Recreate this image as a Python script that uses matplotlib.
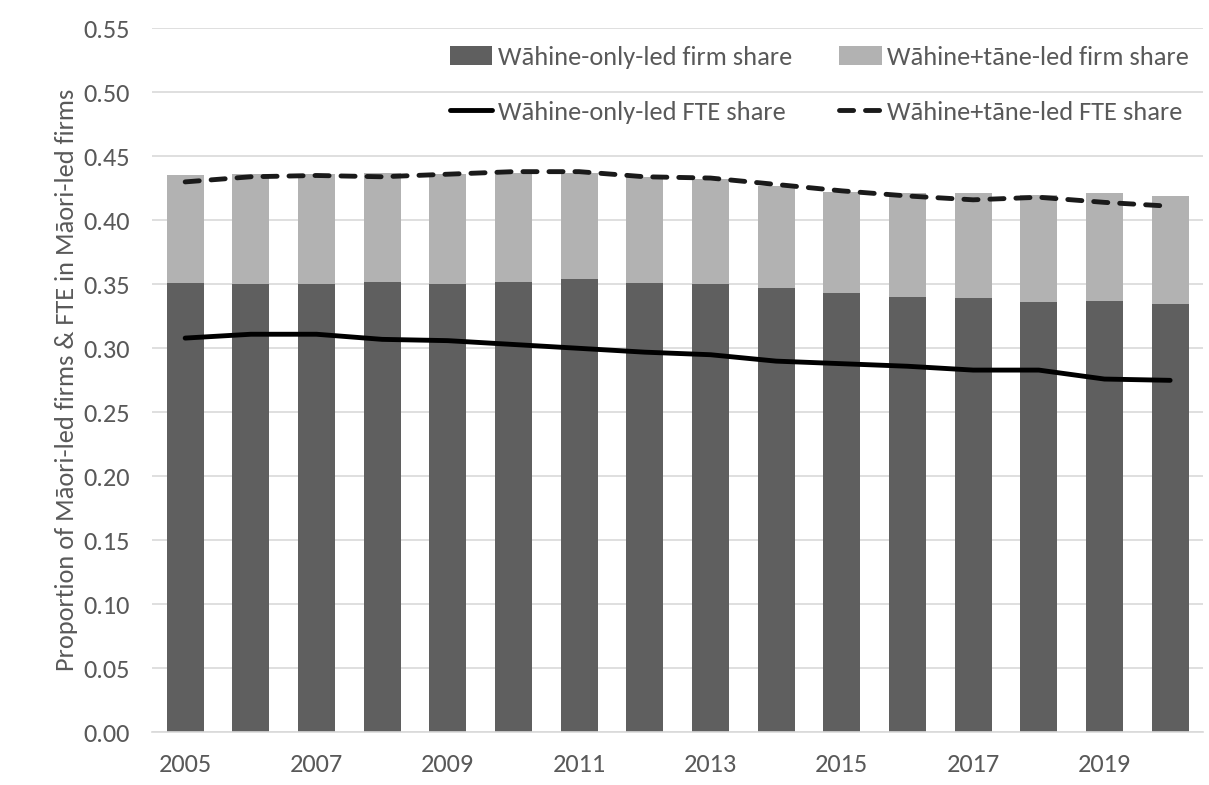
import matplotlib
matplotlib.use("Agg")
import matplotlib.pyplot as plt
import numpy as np

plt.rcParams['font.family'] = ['Carlito', 'Liberation Sans Narrow', 'DejaVu Sans']

years = [2005, 2006, 2007, 2008, 2009, 2010, 2011, 2012,
         2013, 2014, 2015, 2016, 2017, 2018, 2019, 2020]

# firm shares (stacked bars)
wahine_only_firm = [0.351, 0.350, 0.350, 0.352, 0.350, 0.352, 0.354, 0.351,
                    0.350, 0.347, 0.343, 0.340, 0.339, 0.336, 0.337, 0.335]
wahine_tane_total = [0.435, 0.436, 0.436, 0.437, 0.436, 0.437, 0.437, 0.434,
                     0.432, 0.427, 0.422, 0.421, 0.421, 0.420, 0.421, 0.419]

# FTE shares (lines)
wahine_only_fte = [0.308, 0.311, 0.311, 0.307, 0.306, 0.303, 0.300, 0.297,
                   0.295, 0.290, 0.288, 0.286, 0.283, 0.283, 0.276, 0.275]
wahine_tane_fte = [0.430, 0.434, 0.435, 0.434, 0.436, 0.438, 0.438, 0.434,
                   0.433, 0.428, 0.423, 0.419, 0.416, 0.418, 0.414, 0.411]

wahine_tane_firm = [t - o for t, o in zip(wahine_tane_total, wahine_only_firm)]

grey_txt = '#595959'
grid_col = '#d9d9d9'

fig = plt.figure(figsize=(12.09, 7.85), dpi=100)
ax = fig.add_axes([0.126, 0.067, 0.869, 0.897])

x = np.arange(len(years))
ax.bar(x, wahine_only_firm, width=0.56, color='#5f5f5f',
       label='Wāhine-only-led firm share', zorder=2)
ax.bar(x, wahine_tane_firm, width=0.56, bottom=wahine_only_firm, color='#b2b2b2',
       label='Wāhine+tāne-led firm share', zorder=2)
ax.plot(x, wahine_only_fte, color='black', lw=3.5,
        label='Wāhine-only-led FTE share', zorder=3, solid_capstyle='round')
ax.plot(x, wahine_tane_fte, color='#1a1a1a', lw=3.5, linestyle=(0, (2.9, 2.45)),
        label='Wāhine+tāne-led FTE share', zorder=3, dash_capstyle='round')

ax.set_xlim(-0.5, len(years) - 0.5)
ax.set_ylim(0, 0.55)
ax.set_yticks(np.arange(0, 0.551, 0.05))
ax.set_yticklabels([f'{v:.2f}' for v in np.arange(0, 0.551, 0.05)])
ax.set_xticks(x[::2])
ax.set_xticklabels([str(y) for y in years[::2]])

ax.grid(axis='y', color=grid_col, lw=1.2, zorder=0)
ax.set_axisbelow(True)
for s in ['top', 'right', 'left']:
    ax.spines[s].set_visible(False)
ax.spines['bottom'].set_color(grid_col)
ax.spines['bottom'].set_linewidth(1.2)
ax.tick_params(axis='both', length=0, labelsize=19, colors=grey_txt)
ax.tick_params(axis='x', pad=15)
ax.tick_params(axis='y', pad=16)

ax.set_ylabel('Proportion of Māori-led firms & FTE in Māori-led firms',
              fontsize=19, color=grey_txt, labelpad=4)

# legend order: bars row on top, lines row below
h, l = ax.get_legend_handles_labels()
order = [2, 0, 3, 1]
leg = ax.legend([h[i] for i in order], [l[i] for i in order], ncol=2,
                loc='upper left', bbox_to_anchor=(0.2835, 0.975), frameon=False,
                fontsize=19, labelcolor=grey_txt, handlelength=1.6,
                handletextpad=0.2, columnspacing=1.8, labelspacing=1.2,
                borderpad=0, borderaxespad=0)

fig.savefig('out.png', dpi=100)
